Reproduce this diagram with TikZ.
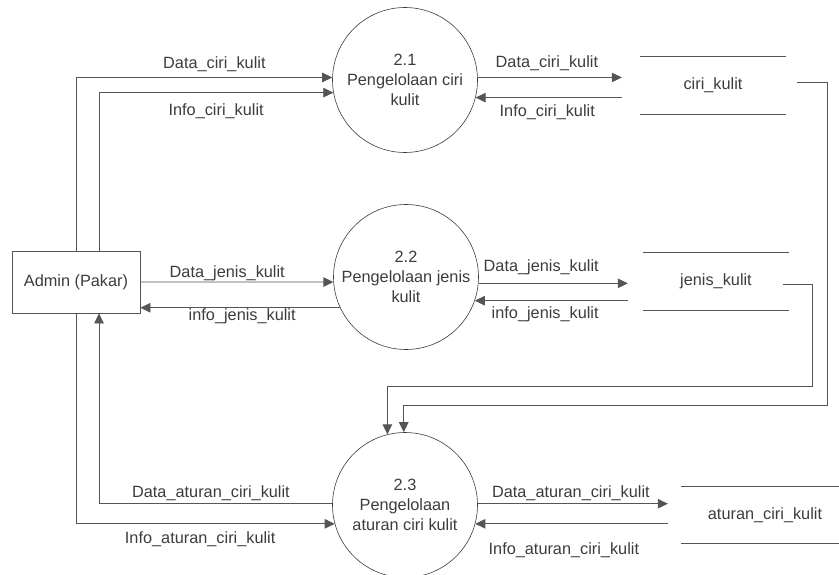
\documentclass[tikz,border=0pt]{standalone}
\usepackage{fontspec}
\setmainfont{Liberation Sans}
\usetikzlibrary{arrows.meta}
\definecolor{lgray}{HTML}{555555}
\definecolor{tgray}{HTML}{3C3C3C}

\begin{document}
\begin{tikzpicture}[x=1pt, y=-1pt,
    font=\fontsize{16.3}{20}\selectfont, text=tgray,
    proc/.style={draw=tgray, circle, minimum size=145pt, inner sep=0pt, align=center, line width=0.6pt},
    ent/.style={draw=lgray, minimum width=128pt, minimum height=62pt, inner sep=0pt, line width=0.8pt},
    store/.style={minimum height=57pt, inner sep=0pt},
    ln/.style={draw=lgray, line width=0.8pt},
    arr/.style={ln, -{Triangle[length=10pt, width=9.5pt]}},
    lbl/.style={inner sep=0pt, text height=12pt, text depth=3pt}
  ]
    \useasboundingbox (0,0) rectangle (839,575);

    \node[ent] (adm) at (76,282) {Admin (Pakar)};
    \node[proc] (p1) at (405,80) {2.1\\Pengelolaan ciri\\kulit};
    \node[proc] (p2) at (406,277) {2.2\\Pengelolaan jenis\\kulit};
    \node[proc] (p3) at (405,505) {2.3\\Pengelolaan\\aturan ciri kulit};
    \node[store, minimum width=146pt] (cs) at (713,85.5) {ciri\_kulit};
    \node[store, minimum width=146pt] (js) at (716,281.5) {jenis\_kulit};
    \node[store, minimum width=168pt, minimum height=56pt] (as) at (765,515) {aturan\_ciri\_kulit};
    \foreach \s in {cs,js,as}
      \draw[ln] (\s.north west) -- (\s.north east) (\s.south west) -- (\s.south east);

    % admin <-> 2.1
    \draw[arr] (adm.north) |- node[lbl, above=6pt, pos=0.77] {Data\_ciri\_kulit} (p1.178);
    \draw[arr] ([xshift=23pt]adm.north) |- node[lbl, below=10pt, pos=0.75] {Info\_ciri\_kulit} (p1.190);
    % admin <-> 2.2
    \draw[arr] (adm.east) -- node[lbl, above=1pt, pos=0.45] {Data\_jenis\_kulit} (p2.184);
    \draw[arr] (p2.205) -- node[lbl, below=0pt, pos=0.49] {info\_jenis\_kulit} (adm.east |- p2.205);
    % admin <-> 2.3
    \draw[arr] (p3.179) -| node[lbl, above=3pt, pos=0.26] {Data\_aturan\_ciri\_kulit} ([xshift=23pt]adm.south);
    \draw[arr] (adm.south) |- node[lbl, below=7pt, pos=0.74] {Info\_aturan\_ciri\_kulit} (p3.195);

    % processes <-> stores
    \draw[arr] (p1.2) -- node[lbl, above=7pt, pos=0.48] {Data\_ciri\_kulit} ([xshift=-18pt]cs.west |- p1.2);
    \draw[arr] ([xshift=-18pt]cs.west |- p1.-14) -- node[lbl, below=6pt, pos=0.51] {Info\_ciri\_kulit} (p1.-14);
    \draw[arr] (p2.-5) -- node[lbl, above=8pt, pos=0.42] {Data\_jenis\_kulit} ([xshift=-15pt]js.west |- p2.-5);
    \draw[arr] ([xshift=-15pt]js.west |- p2.-19) -- node[lbl, below=5pt, pos=0.54] {info\_jenis\_kulit} (p2.-19);
    \draw[arr] (p3.1) -- node[lbl, above=3pt, pos=0.49] {Data\_aturan\_ciri\_kulit} ([xshift=-13pt]as.west |- p3.1);
    \draw[arr] ([xshift=-13pt]as.west |- p3.-15) -- node[lbl, below=18.5pt, pos=0.54] {Info\_aturan\_ciri\_kulit} (p3.-15);

    % stores -> 2.3
    \coordinate (c1) at (827,405);
    \coordinate (c2) at (812,386);
    \draw[arr] ([shift={(11pt,3.5pt)}]cs.east) -| (c1) -| (p3.91);
    \draw[arr] ([shift={(-6pt,-3pt)}]js.east) -| (c2) -| (p3.104);
  \end{tikzpicture}
\end{document}
